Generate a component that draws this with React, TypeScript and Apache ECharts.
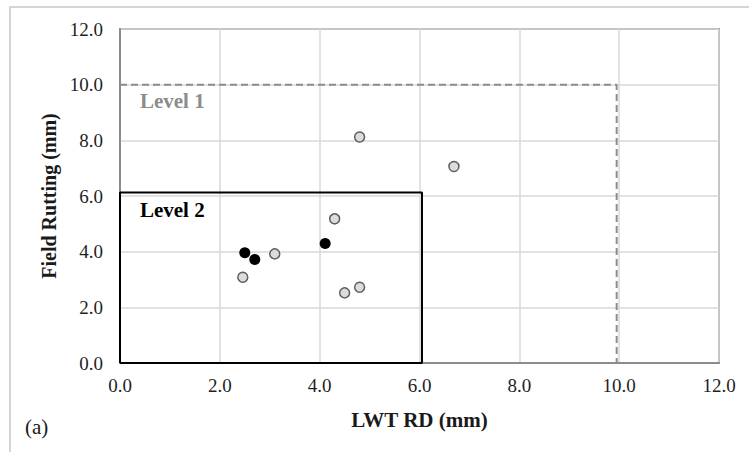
import React, { useEffect, useRef } from "react";
import * as echarts from "echarts";

const xTicks = [0, 2, 4, 6, 8, 10, 12];
const yTicks = [0, 2, 4, 6, 8, 10, 12];
const grayPoints: [number, number][] = [
  [4.8, 8.12],
  [6.69, 7.06],
  [4.3, 5.18],
  [3.1, 3.92],
  [2.46, 3.08],
  [4.5, 2.52],
  [4.8, 2.72],
];
const blackPoints: [number, number][] = [
  [2.5, 3.96],
  [2.7, 3.72],
  [4.11, 4.29],
];
const level1Line: [number, number][] = [
  [0, 10],
  [9.95, 10],
  [9.95, 0],
];
const level2Box: [number, number][] = [
  [0, 0],
  [0, 6.13],
  [6.05, 6.13],
  [6.05, 0],
  [0, 0],
];
const labels = {
  x: "LWT RD (mm)",
  y: "Field Rutting (mm)",
  level1: "Level 1",
  level2: "Level 2",
  panel: "(a)",
};

const FONT = "Liberation Serif";

export default function App() {
  const ref = useRef<HTMLDivElement>(null);
  useEffect(() => {
    if (!ref.current) return;
    const chart = echarts.init(ref.current, null, { renderer: "svg" });
    chart.setOption({
      animation: false,
      backgroundColor: "#ffffff",
      textStyle: { fontFamily: FONT },
      grid: {
        left: 120,
        right: 30,
        top: 29,
        bottom: 89,
        show: true,
        borderColor: "#8c8c8c",
        borderWidth: 2,
        backgroundColor: "transparent",
      },
      xAxis: {
        type: "value",
        min: xTicks[0],
        max: xTicks[xTicks.length - 1],
        interval: 2,
        name: labels.x,
        nameLocation: "middle",
        nameGap: 46,
        nameTextStyle: { fontFamily: FONT, fontSize: 21, fontWeight: "bold", color: "#1a1a1a" },
        axisLine: { show: true, lineStyle: { color: "#8c8c8c", width: 2 } },
        axisTick: { show: false },
        axisLabel: {
          formatter: (v: number) => v.toFixed(1),
          fontFamily: FONT,
          fontSize: 19,
          color: "#1f1f1f",
          margin: 13,
        },
        splitLine: { show: true, lineStyle: { color: "#d9d9d9", width: 1.5 } },
      },
      yAxis: {
        type: "value",
        min: yTicks[0],
        max: yTicks[yTicks.length - 1],
        interval: 2,
        name: labels.y,
        nameLocation: "middle",
        nameGap: 60,
        nameTextStyle: { fontFamily: FONT, fontSize: 20, fontWeight: "bold", color: "#1a1a1a" },
        axisLine: { show: true, lineStyle: { color: "#8c8c8c", width: 2 } },
        axisTick: { show: false },
        axisLabel: {
          formatter: (v: number) => v.toFixed(1),
          fontFamily: FONT,
          fontSize: 19,
          color: "#1f1f1f",
          margin: 17,
        },
        splitLine: { show: true, lineStyle: { color: "#d9d9d9", width: 1.5 } },
      },
      graphic: [
        {
          type: "rect",
          shape: { x: 10, y: 7, width: 760, height: 460 },
          style: { fill: "none", stroke: "#c8c8c8", lineWidth: 1.5 },
          z: -10,
        },
        {
          type: "text",
          left: 25,
          top: 416,
          style: { text: labels.panel, fontFamily: FONT, fontSize: 21, fill: "#1a1a1a" },
        },
      ],
      series: [
        {
          type: "line",
          data: level1Line,
          symbol: "none",
          clip: false,
          lineStyle: { color: "#8c8c8c", width: 2, type: [7, 4] },
          z: 3,
          markPoint: {
            symbol: "rect",
            symbolSize: 0,
            data: [
              {
                coord: [0.3, 9.41],
                label: {
                  show: true,
                  formatter: labels.level1,
                  position: "right",
                  fontFamily: FONT,
                  fontSize: 21,
                  fontWeight: "bold",
                  color: "#8c8c8c",
                },
              },
            ],
          },
        },
        {
          type: "line",
          data: level2Box,
          symbol: "none",
          clip: false,
          lineStyle: { color: "#000000", width: 2 },
          z: 4,
          markPoint: {
            symbol: "rect",
            symbolSize: 0,
            data: [
              {
                coord: [0.3, 5.51],
                label: {
                  show: true,
                  formatter: labels.level2,
                  position: "right",
                  fontFamily: FONT,
                  fontSize: 21,
                  fontWeight: "bold",
                  color: "#000000",
                },
              },
            ],
          },
        },
        {
          type: "scatter",
          data: grayPoints,
          symbol: "circle",
          symbolSize: 10,
          itemStyle: { color: "#dcdcdc", borderColor: "#5e5e5e", borderWidth: 1.5, opacity: 1 },
          z: 5,
        },
        {
          type: "scatter",
          data: blackPoints,
          symbol: "circle",
          symbolSize: 11,
          itemStyle: { color: "#000000", opacity: 1 },
          z: 6,
        },
      ],
    });
    return () => chart.dispose();
  }, []);
  return (
    <div
      ref={ref}
      style={{ position: "fixed", left: 0, top: 0, width: 749, height: 452 }}
    />
  );
}
